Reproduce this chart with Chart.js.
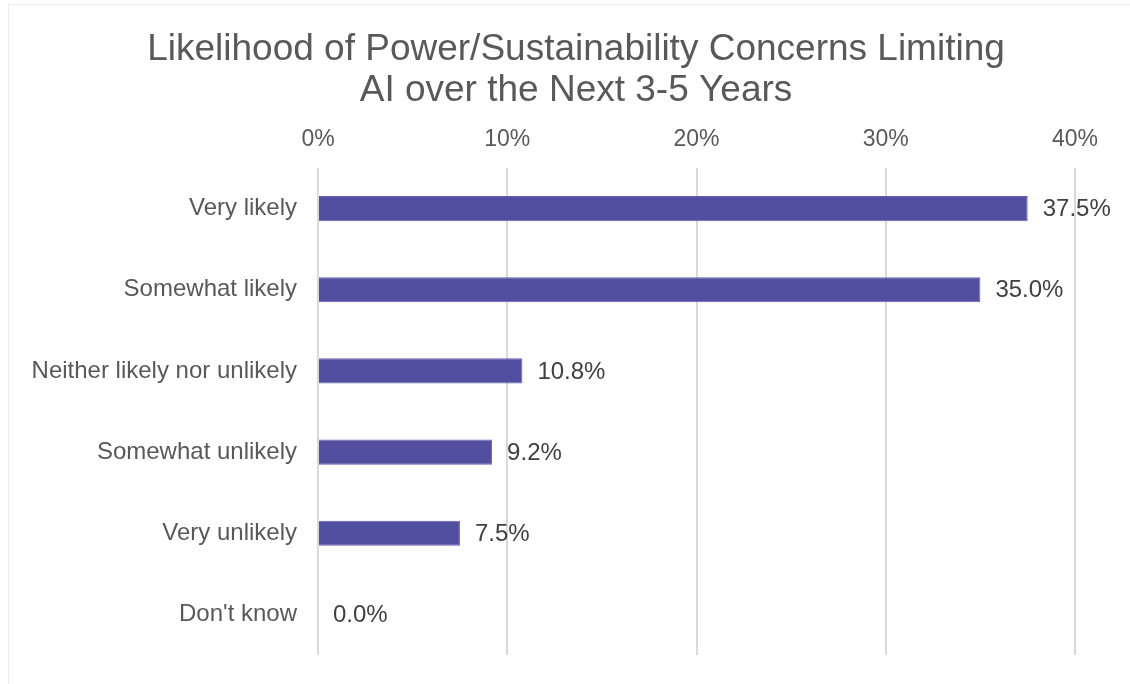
<!DOCTYPE html>
<html><head><meta charset="utf-8">
<script src="https://cdn.jsdelivr.net/npm/chart.js@4.4.1/dist/chart.umd.min.js"></script>
<style>
html,body{margin:0;padding:0;background:#fff;}
#wrap{position:absolute;left:0;top:0;width:1130px;height:684px;}
#frame{position:absolute;left:8px;top:4px;width:1130px;height:690px;border:1px solid #ececec;box-sizing:border-box;}
</style></head>
<body>
<div id="frame"></div>
<div id="wrap"><canvas id="c" width="1130" height="684"></canvas></div>
<script>
const categories = ["Very likely","Somewhat likely","Neither likely nor unlikely","Somewhat unlikely","Very unlikely","Don't know"];
const values = [37.5, 35.0, 10.8, 9.2, 7.5, 0.0];
const tickValues = [0, 10, 20, 30, 40];
const titleLines = ["Likelihood of Power/Sustainability Concerns Limiting","AI over the Next 3-5 Years"];

const FONT = "Arial, 'Liberation Sans', sans-serif";
const GRAY = '#595959';

const titleDraw = {
  id: 'titleDraw',
  afterDraw(chart) {
    const ctx = chart.ctx;
    ctx.save();
    ctx.font = '37px ' + FONT;
    ctx.fillStyle = GRAY;
    ctx.textAlign = 'center';
    ctx.textBaseline = 'alphabetic';
    titleLines.forEach((t, i) => ctx.fillText(t, 576, 60 + i * 41));
    ctx.restore();
  }
};

const valueLabels = {
  id: 'valueLabels',
  afterDatasetsDraw(chart) {
    const ctx = chart.ctx;
    const meta = chart.getDatasetMeta(0);
    ctx.save();
    ctx.font = '24px ' + FONT;
    ctx.fillStyle = '#404040';
    ctx.textAlign = 'left';
    ctx.textBaseline = 'middle';
    meta.data.forEach((bar, i) => {
      ctx.fillText(values[i].toFixed(1) + '%', bar.x + 15, bar.y + 1);
    });
    ctx.restore();
  }
};

new Chart(document.getElementById('c'), {
  type: 'bar',
  data: {
    labels: categories,
    datasets: [{
      data: values,
      backgroundColor: '#524EA0',
      borderColor: '#6561B0',
      borderWidth: 1,
      barPercentage: 0.31,
      categoryPercentage: 1.0
    }]
  },
  options: {
    indexAxis: 'y',
    responsive: false,
    animation: false,
    devicePixelRatio: 1,
    layout: { padding: { left: 10, right: 55, top: 0, bottom: 29 } },
    plugins: {
      legend: { display: false },
      tooltip: { enabled: false },
      title: { display: false }
    },
    scales: {
      x: {
        position: 'top',
        min: 0, max: 40,
        afterBuildTicks(s) { s.ticks = tickValues.map(v => ({ value: v })); },
        afterFit(s) { s.height = 168; },
        ticks: {
          color: GRAY,
          font: { family: FONT, size: 23 },
          padding: 15,
          callback: v => v + '%'
        },
        grid: { color: '#d9d9d9', lineWidth: 2, drawTicks: false },
        border: { display: false }
      },
      y: {
        afterFit(s) { s.width = 308; },
        ticks: {
          color: GRAY,
          font: { family: FONT, size: 24 },
          padding: 13
        },
        grid: { display: false },
        border: { display: false }
      }
    }
  },
  plugins: [valueLabels, titleDraw]
});
</script>
</body></html>
